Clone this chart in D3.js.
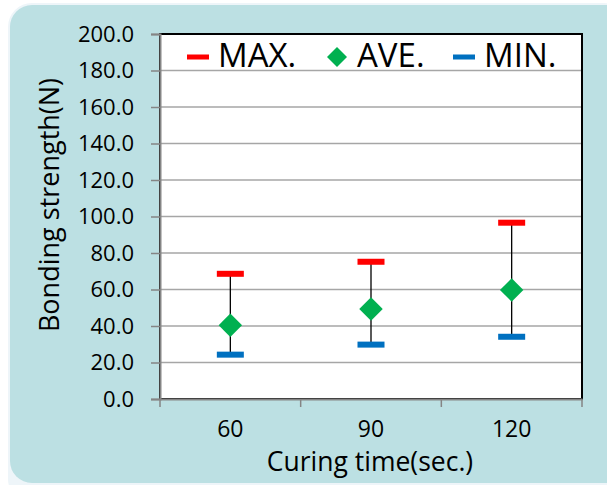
<!DOCTYPE html>
<html><head><meta charset="utf-8">
<script src="https://cdn.jsdelivr.net/npm/d3@7"></script>
<style>html,body{margin:0;padding:0;background:#fff;}svg{display:block;}</style>
</head><body>
<script>
const categories = ["60", "90", "120"];
const maxValues = [68.6, 75.2, 96.6];
const aveValues = [40.4, 49.3, 59.7];
const minValues = [24.3, 29.8, 34.1];
const yTicks = [0, 20, 40, 60, 80, 100, 120, 140, 160, 180, 200];
const legendLabels = ["MAX.", "AVE.", "MIN."];
const yTitle = "Bonding strength(N)";
const xTitle = "Curing time(sec.)";

(function () {
const W = 607, H = 485;
const font = "'Open Sans', sans-serif";
const svg = d3.select("body").append("svg").attr("width", W).attr("height", H);

// background panel
svg.append("rect").attr("x", 8).attr("y", 3).attr("width", 620).attr("height", 500)
  .attr("rx", 24).attr("fill", "#eef5f9");
svg.append("rect").attr("x", 10).attr("y", 5).attr("width", 620).attr("height", 478)
  .attr("rx", 22).attr("fill", "#bce0e3");

const pL = 160, pR = 582, pT = 34, pB = 399;
svg.append("rect").attr("x", pL).attr("y", pT).attr("width", pR-pL).attr("height", pB-pT)
  .attr("fill", "#fff");

const y = d3.scaleLinear().domain([0, 200]).range([pB, pT]);
const x = d3.scaleBand().domain(categories).range([pL, pR]);

// gridlines
svg.append("g").selectAll("line").data(yTicks.filter(d => d > 0)).join("line")
  .attr("x1", pL).attr("x2", pR).attr("y1", d => y(d)).attr("y2", d => y(d))
  .attr("stroke", "#a6a6a6").attr("stroke-width", 1.5);

// plot border
svg.append("rect").attr("x", pL).attr("y", pT).attr("width", pR-pL).attr("height", pB-pT)
  .attr("fill", "none").attr("stroke", "#000").attr("stroke-width", 2);

// y axis
const yAxis = d3.axisLeft(y).tickValues(yTicks).tickFormat(d3.format(".1f")).tickSize(9).tickPadding(17);
const gy = svg.append("g").attr("transform", `translate(${pL},0)`).call(yAxis);
gy.select(".domain").attr("stroke", "#858585").attr("stroke-width", 2);
gy.selectAll(".tick line").attr("stroke", "#858585").attr("stroke-width", 1.5);
gy.selectAll(".tick text").attr("font-family", font).attr("font-size", 22).attr("fill", "#000");

// x axis
const xAxis = d3.axisBottom(x).tickSize(0).tickPadding(22);
const gx = svg.append("g").attr("transform", `translate(0,${pB})`).call(xAxis);
gx.select(".domain").attr("stroke", "#858585").attr("stroke-width", 2);
gx.selectAll(".tick text").attr("font-family", font).attr("font-size", 23).attr("fill", "#000");
// category boundary ticks
const bounds = categories.map(c => x(c)).concat([x(categories[categories.length-1]) + x.bandwidth()]);
svg.append("g").selectAll("line").data(bounds).join("line")
  .attr("x1", d => d).attr("x2", d => d).attr("y1", pB).attr("y2", pB + 8)
  .attr("stroke", "#858585").attr("stroke-width", 1.5);

// error bars
const cx = c => x(c) + x.bandwidth()/2;
const g = svg.append("g");
g.selectAll("line.v").data(categories).join("line").attr("class", "v")
  .attr("x1", cx).attr("x2", cx)
  .attr("y1", (c, i) => y(maxValues[i])).attr("y2", (c, i) => y(minValues[i]))
  .attr("stroke", "#000").attr("stroke-width", 1.3);
const capW = 27, capH = 6;
g.selectAll("rect.max").data(categories).join("rect").attr("class", "max")
  .attr("x", c => cx(c) - capW/2).attr("y", (c, i) => y(maxValues[i]) - capH/2)
  .attr("width", capW).attr("height", capH).attr("fill", "#ff0000");
g.selectAll("rect.min").data(categories).join("rect").attr("class", "min")
  .attr("x", c => cx(c) - capW/2).attr("y", (c, i) => y(minValues[i]) - capH/2)
  .attr("width", capW).attr("height", capH).attr("fill", "#0070c0");
const dia = d3.symbol().type(d3.symbolSquare).size(275);
g.selectAll("path.ave").data(categories).join("path").attr("class", "ave")
  .attr("d", dia)
  .attr("transform", (c, i) => `translate(${cx(c)},${y(aveValues[i])}) rotate(45)`)
  .attr("fill", "#00b050");

// legend
const leg = svg.append("g");
const ly = 57;
leg.append("rect").attr("x", 187).attr("y", ly - 2.5).attr("width", 22).attr("height", 5).attr("fill", "#ff0000");
leg.append("text").attr("x", 218).attr("y", 67).text(legendLabels[0]);
leg.append("path").attr("d", d3.symbol().type(d3.symbolSquare).size(200))
  .attr("transform", `translate(337,${ly}) rotate(45)`).attr("fill", "#00b050");
leg.append("text").attr("x", 357).attr("y", 67).text(legendLabels[1]);
leg.append("rect").attr("x", 453).attr("y", ly - 2.5).attr("width", 22).attr("height", 5).attr("fill", "#0070c0");
leg.append("text").attr("x", 484).attr("y", 67).text(legendLabels[2]);
leg.selectAll("text").attr("font-family", font).attr("font-size", 33).attr("fill", "#000");

// axis titles
svg.append("text").attr("transform", "translate(59,205) rotate(-90)")
  .attr("text-anchor", "middle").attr("font-family", font).attr("font-size", 27).attr("fill", "#000")
  .text(yTitle);
svg.append("text").attr("x", 370).attr("y", 471)
  .attr("text-anchor", "middle").attr("font-family", font).attr("font-size", 26.5).attr("fill", "#000")
  .text(xTitle);
})();
</script>
</body></html>
